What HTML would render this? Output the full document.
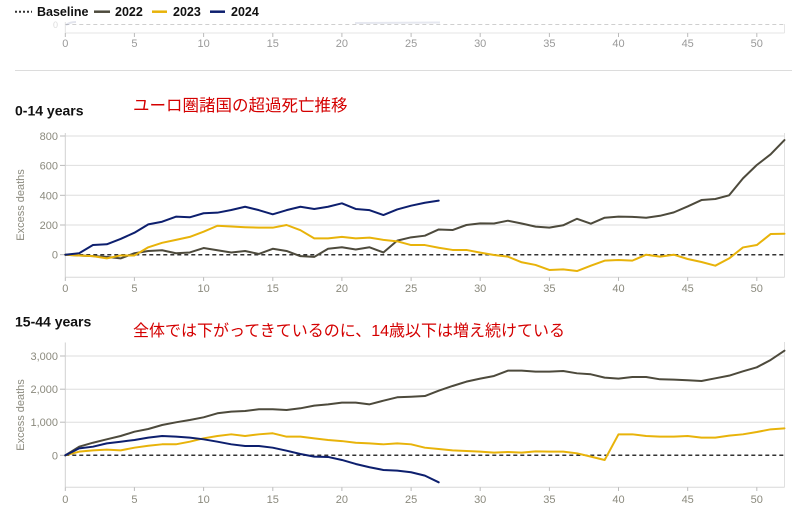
<!DOCTYPE html>
<html>
<head>
<meta charset="utf-8">
<style>
html,body{margin:0;padding:0;background:#fff;}
svg{display:block;}
.tk{font-family:"Liberation Sans",sans-serif;font-size:11px;fill:#8b8a7e;}
.ttl{font-family:"Liberation Sans",sans-serif;font-size:14px;font-weight:bold;fill:#111;}
.lg{font-family:"Liberation Sans",sans-serif;font-size:12.5px;font-weight:bold;fill:#111;}
.red{font-family:"Liberation Sans","Noto Sans CJK JP",sans-serif;fill:#d40000;}
.s{fill:none;stroke-width:2;stroke-linejoin:round;stroke-linecap:round;}
</style>
</head>
<body>
<svg width="800" height="515" viewBox="0 0 800 515" xmlns="http://www.w3.org/2000/svg">
<!-- Legend -->
<line x1="15" y1="11.7" x2="32" y2="11.7" stroke="#333" stroke-width="2" stroke-dasharray="2 2"/>
<text class="lg" x="37" y="16">Baseline</text>
<line x1="94" y1="11.7" x2="110" y2="11.7" stroke="#4d4a3c" stroke-width="2.5"/>
<text class="lg" x="115" y="16">2022</text>
<line x1="152" y1="11.7" x2="167" y2="11.7" stroke="#e8b30a" stroke-width="2.5"/>
<text class="lg" x="173" y="16">2023</text>
<line x1="210" y1="11.7" x2="225" y2="11.7" stroke="#0d1f6e" stroke-width="2.5"/>
<text class="lg" x="231" y="16">2024</text>

<!-- Top partial chart -->
<line x1="65.3" y1="22" x2="65.3" y2="33" stroke="#e2e2e2"/>
<line x1="784.5" y1="24" x2="784.5" y2="33" stroke="#e6e6e6"/>
<line x1="65.3" y1="33" x2="784.5" y2="33" stroke="#e6e6e6"/>
<line x1="65.3" y1="24.5" x2="784.5" y2="24.5" stroke="#cfcfcf" stroke-dasharray="4 3"/>
<text class="tk" x="58" y="28" text-anchor="end" style="fill:#dcdcdc;font-size:9px">0</text>
<path d="M66 25 Q70 22 76 22" stroke="#0d1f6e" stroke-opacity="0.12" fill="none" stroke-width="2"/>
<path d="M355 23 L440 22.5" stroke="#0d1f6e" stroke-opacity="0.1" fill="none" stroke-width="2"/>
<g stroke="#bbb">
<line x1="65.3" y1="33" x2="65.3" y2="37"/><line x1="134.4" y1="33" x2="134.4" y2="37"/><line x1="203.6" y1="33" x2="203.6" y2="37"/><line x1="272.8" y1="33" x2="272.8" y2="37"/><line x1="341.9" y1="33" x2="341.9" y2="37"/><line x1="411.1" y1="33" x2="411.1" y2="37"/><line x1="480.2" y1="33" x2="480.2" y2="37"/><line x1="549.4" y1="33" x2="549.4" y2="37"/><line x1="618.5" y1="33" x2="618.5" y2="37"/><line x1="687.7" y1="33" x2="687.7" y2="37"/><line x1="756.8" y1="33" x2="756.8" y2="37"/>
</g>
<g class="tk" text-anchor="middle" style="fill:#999">
<text x="65.3" y="47">0</text><text x="134.4" y="47">5</text><text x="203.6" y="47">10</text><text x="272.8" y="47">15</text><text x="341.9" y="47">20</text><text x="411.1" y="47">25</text><text x="480.2" y="47">30</text><text x="549.4" y="47">35</text><text x="618.5" y="47">40</text><text x="687.7" y="47">45</text><text x="756.8" y="47">50</text>
</g>

<line x1="15" y1="70.5" x2="792" y2="70.5" stroke="#dcdcdc"/>

<!-- Chart 1 -->
<text class="ttl" x="15" y="115.5">0-14 years</text>
<text class="red" x="133" y="111" style="font-size:16.5px">ユーロ圏諸国の超過死亡推移</text>
<g stroke="#dedede">
<line x1="65.3" y1="136" x2="784.5" y2="136"/>
<line x1="65.3" y1="165.4" x2="784.5" y2="165.4"/>
<line x1="65.3" y1="195.3" x2="784.5" y2="195.3"/>
<line x1="65.3" y1="225" x2="784.5" y2="225"/>
</g>
<line x1="65.3" y1="133" x2="65.3" y2="277.3" stroke="#d0d0d0"/>
<line x1="784.5" y1="133" x2="784.5" y2="277.3" stroke="#e0e0e0"/>
<line x1="65.3" y1="277.3" x2="784.5" y2="277.3" stroke="#d8d8d8"/>
<g stroke="#bbb">
<line x1="60" y1="136" x2="65" y2="136"/><line x1="60" y1="165.4" x2="65" y2="165.4"/><line x1="60" y1="195.3" x2="65" y2="195.3"/><line x1="60" y1="225" x2="65" y2="225"/><line x1="60" y1="254.7" x2="65" y2="254.7"/>
</g>
<g class="tk" text-anchor="end">
<text x="58" y="140">800</text><text x="58" y="169.4">600</text><text x="58" y="199.3">400</text><text x="58" y="229">200</text><text x="58" y="258.7">0</text>
</g>
<text class="tk" transform="translate(24,205) rotate(-90)" text-anchor="middle">Excess deaths</text>
<g stroke="#bbb">
<line x1="65.3" y1="277.3" x2="65.3" y2="281"/><line x1="134.4" y1="277.3" x2="134.4" y2="281"/><line x1="203.6" y1="277.3" x2="203.6" y2="281"/><line x1="272.8" y1="277.3" x2="272.8" y2="281"/><line x1="341.9" y1="277.3" x2="341.9" y2="281"/><line x1="411.1" y1="277.3" x2="411.1" y2="281"/><line x1="480.2" y1="277.3" x2="480.2" y2="281"/><line x1="549.4" y1="277.3" x2="549.4" y2="281"/><line x1="618.5" y1="277.3" x2="618.5" y2="281"/><line x1="687.7" y1="277.3" x2="687.7" y2="281"/><line x1="756.8" y1="277.3" x2="756.8" y2="281"/>
</g>
<g class="tk" text-anchor="middle">
<text x="65.3" y="292">0</text><text x="134.4" y="292">5</text><text x="203.6" y="292">10</text><text x="272.8" y="292">15</text><text x="341.9" y="292">20</text><text x="411.1" y="292">25</text><text x="480.2" y="292">30</text><text x="549.4" y="292">35</text><text x="618.5" y="292">40</text><text x="687.7" y="292">45</text><text x="756.8" y="292">50</text>
</g>
<line x1="65.3" y1="254.7" x2="784.5" y2="254.7" stroke="#333" stroke-width="1.5" stroke-dasharray="4 3"/>
<g transform="translate(65.3,254.7) scale(13.83,-0.1485)">
<polyline class="s" vector-effect="non-scaling-stroke" stroke="#4d4a3c" points="0,0 1,-5 2,-10 3,-15 4,-25 5,10 6,25 7,30 8,10 9,15 10,45 11,30 12,15 13,25 14,5 15,40 16,25 17,-10 18,-15 19,40 20,50 21,35 22,50 23,15 24,95 25,117 26,128 27,170 28,166 29,200 30,211 31,210 32,229 33,210 34,189 35,182 36,198 37,242 38,209 39,249 40,256 41,255 42,249 43,262 44,285 45,325 46,368 47,375 48,400 49,514 50,604 51,676 52,772"/>
<polyline class="s" vector-effect="non-scaling-stroke" stroke="#e8b30a" points="0,0 1,-5 2,-10 3,-25 4,-5 5,-5 6,50 7,80 8,100 9,120 10,155 11,195 12,190 13,185 14,182 15,182 16,200 17,165 18,110 19,110 20,120 21,110 22,115 23,100 24,90 25,65 26,65 27,47 28,32 29,32 30,14 31,-2 32,-13 33,-51 34,-69 35,-103 36,-99 37,-110 38,-74 39,-40 40,-36 41,-40 42,0 43,-13 44,0 45,-29 46,-49 47,-74 48,-25 49,49 50,65 51,139 52,141"/>
<polyline class="s" vector-effect="non-scaling-stroke" stroke="#0d1f6e" points="0,0 1,10 2,65 3,70 4,106 5,148 6,204 7,222 8,256 9,252 10,279 11,283 12,301 13,323 14,300 15,272 16,300 17,323 18,308 19,323 20,346 21,308 22,300 23,267 24,305 25,330 26,350 27,364"/>
</g>

<!-- Chart 2 -->
<text class="ttl" x="15" y="326.5">15-44 years</text>
<text class="red" x="133" y="336" style="font-size:16px">全体では下がってきているのに、14歳以下は増え続けている</text>
<g stroke="#dedede">
<line x1="65.3" y1="356" x2="784.5" y2="356"/>
<line x1="65.3" y1="389.2" x2="784.5" y2="389.2"/>
<line x1="65.3" y1="422.2" x2="784.5" y2="422.2"/>
</g>
<line x1="65.3" y1="342.5" x2="65.3" y2="487.3" stroke="#d0d0d0"/>
<line x1="784.5" y1="342" x2="784.5" y2="487.3" stroke="#e0e0e0"/>
<line x1="65.3" y1="487.3" x2="784.5" y2="487.3" stroke="#d8d8d8"/>
<g stroke="#bbb">
<line x1="60" y1="356" x2="65" y2="356"/><line x1="60" y1="389.2" x2="65" y2="389.2"/><line x1="60" y1="422.2" x2="65" y2="422.2"/><line x1="60" y1="455.3" x2="65" y2="455.3"/>
</g>
<g class="tk" text-anchor="end">
<text x="58" y="360">3,000</text><text x="58" y="393.2">2,000</text><text x="58" y="426.2">1,000</text><text x="58" y="459.3">0</text>
</g>
<text class="tk" transform="translate(24,415) rotate(-90)" text-anchor="middle">Excess deaths</text>
<g stroke="#bbb">
<line x1="65.3" y1="487.3" x2="65.3" y2="491"/><line x1="134.4" y1="487.3" x2="134.4" y2="491"/><line x1="203.6" y1="487.3" x2="203.6" y2="491"/><line x1="272.8" y1="487.3" x2="272.8" y2="491"/><line x1="341.9" y1="487.3" x2="341.9" y2="491"/><line x1="411.1" y1="487.3" x2="411.1" y2="491"/><line x1="480.2" y1="487.3" x2="480.2" y2="491"/><line x1="549.4" y1="487.3" x2="549.4" y2="491"/><line x1="618.5" y1="487.3" x2="618.5" y2="491"/><line x1="687.7" y1="487.3" x2="687.7" y2="491"/><line x1="756.8" y1="487.3" x2="756.8" y2="491"/>
</g>
<g class="tk" text-anchor="middle">
<text x="65.3" y="503">0</text><text x="134.4" y="503">5</text><text x="203.6" y="503">10</text><text x="272.8" y="503">15</text><text x="341.9" y="503">20</text><text x="411.1" y="503">25</text><text x="480.2" y="503">30</text><text x="549.4" y="503">35</text><text x="618.5" y="503">40</text><text x="687.7" y="503">45</text><text x="756.8" y="503">50</text>
</g>
<line x1="65.3" y1="455.3" x2="784.5" y2="455.3" stroke="#333" stroke-width="1.5" stroke-dasharray="4 3"/>
<g transform="translate(65.3,455.3) scale(13.83,-0.0331)">
<polyline class="s" vector-effect="non-scaling-stroke" stroke="#4d4a3c" points="0,0 1,260 2,380 3,483 4,583 5,713 6,795 7,915 8,997 9,1066 10,1148 11,1269 12,1318 13,1338 14,1390 15,1390 16,1369 17,1420 18,1500 19,1540 20,1590 21,1590 22,1540 23,1650 24,1752 25,1770 26,1790 27,1952 28,2094 29,2225 30,2316 31,2396 32,2557 33,2557 34,2527 35,2527 36,2547 37,2477 38,2447 39,2346 40,2316 41,2366 42,2366 43,2296 44,2286 45,2266 46,2245 47,2326 48,2406 49,2537 50,2658 51,2880 52,3160"/>
<polyline class="s" vector-effect="non-scaling-stroke" stroke="#e8b30a" points="0,0 1,110 2,150 3,170 4,150 5,230 6,290 7,332 8,332 9,411 10,513 11,583 12,634 13,583 14,634 15,665 16,563 17,563 18,513 19,463 20,430 21,380 22,360 23,332 24,360 25,332 26,230 27,190 28,150 29,130 30,110 31,80 32,100 33,80 34,120 35,110 36,110 37,60 38,-40 39,-141 40,634 41,634 42,583 43,563 44,563 45,583 46,533 47,533 48,593 49,634 50,704 51,785 52,815"/>
<polyline class="s" vector-effect="non-scaling-stroke" stroke="#0d1f6e" points="0,0 1,210 2,260 3,360 4,411 5,463 6,533 7,583 8,563 9,533 10,483 11,411 12,332 13,281 14,281 15,230 16,140 17,40 18,-40 19,-50 20,-141 21,-262 22,-362 23,-443 24,-463 25,-513 26,-614 27,-816"/>
</g>
</svg>
</body>
</html>
